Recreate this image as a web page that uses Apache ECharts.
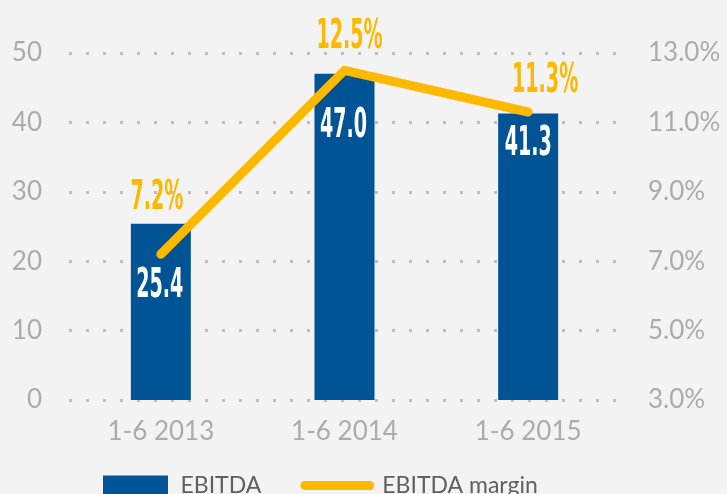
<!DOCTYPE html>
<html>
<head>
<meta charset="utf-8">
<script src="https://cdn.jsdelivr.net/npm/echarts@6/dist/echarts.min.js"></script>
<style>
  html, body { margin: 0; padding: 0; background: #f3f3f3; }
  #chart { width: 727px; height: 494px; }
</style>
</head>
<body>
<div id="chart"></div>
<script>
var categories = ['1-6 2013', '1-6 2014', '1-6 2015'];
var ebitda = [25.4, 47.0, 41.3];
var margin = [7.2, 12.5, 11.3];

var chart = echarts.init(document.getElementById('chart'));
var gray = '#ababab';
var yellow = '#fdb900';
var narrow = '"DejaVu Sans Condensed", "DejaVu Sans", sans-serif';

// per-point label nudges, as in the reference
var barOffsets = [[-1, 43], [-1, 33], [0, 11]];
var lineOffsets = [[-4, -35], [5, -12], [17, -10]];

var barText = ebitda.map(function (v) { return v.toFixed(1); });
var lineText = margin.map(function (v) { return v.toFixed(1) + '%'; });

var gridLine = {
  show: true,
  lineStyle: { color: '#bdbdbd', width: 3, type: [3, 14] }
};

chart.setOption({
  animation: false,
  backgroundColor: '#f3f3f3',
  textStyle: { fontFamily: 'Lato, sans-serif' },
  grid: { left: 69, right: 107, top: 53, bottom: 94 },
  legend: {
    top: 469,
    left: 98,
    itemGap: 39,
    itemWidth: 74,
    itemHeight: 20,
    textStyle: { fontSize: 23, color: '#5f5f5f', fontFamily: 'Lato, sans-serif', padding: [0, 0, 0, 3] },
    data: [
      { name: 'EBITDA', icon: 'path://M0,0 L65,0 L65,20 L0,20 Z' },
      {
        name: 'EBITDA margin',
        icon: 'path://M4.5,0 L69.5,0 A4.5,4.5 0 0 1 69.5,9 L4.5,9 A4.5,4.5 0 0 1 4.5,0 Z'
      }
    ]
  },
  xAxis: {
    type: 'category',
    data: categories,
    axisLine: { show: false },
    axisTick: { show: false },
    axisLabel: { color: gray, fontSize: 26, margin: 19 }
  },
  yAxis: [
    {
      type: 'value', min: 0, max: 50, interval: 10,
      axisLine: { show: false }, axisTick: { show: false },
      axisLabel: { color: gray, fontSize: 26, margin: 27 },
      splitLine: gridLine
    },
    {
      type: 'value', min: 3, max: 13, interval: 2,
      axisLine: { show: false }, axisTick: { show: false },
      axisLabel: {
        color: gray, fontSize: 26, margin: 28,
        formatter: function (v) { return v.toFixed(1) + '%'; }
      },
      splitLine: { show: false }
    }
  ],
  series: [
    {
      name: 'EBITDA',
      type: 'bar',
      barWidth: 60,
      itemStyle: { color: '#005496' },
      data: ebitda.map(function (v, i) {
        return { value: v, label: { offset: barOffsets[i] } };
      }),
      label: {
        show: true,
        position: 'insideTop',
        distance: 0,
        color: '#fff',
        fontSize: 40,
        fontWeight: 'bold',
        fontFamily: narrow,
        formatter: function (p) { return barText[p.dataIndex]; }
      }
    },
    {
      name: 'EBITDA margin',
      type: 'line',
      yAxisIndex: 1,
      symbol: 'circle',
      symbolSize: 1,
      lineStyle: { color: yellow, width: 9, cap: 'round', join: 'round' },
      itemStyle: { color: yellow },
      data: margin.map(function (v, i) {
        return { value: v, label: { offset: lineOffsets[i] } };
      }),
      label: {
        show: true,
        position: 'top',
        distance: 0,
        color: yellow,
        fontSize: 40,
        fontWeight: 'bold',
        fontFamily: narrow,
        formatter: function (p) { return lineText[p.dataIndex]; }
      }
    }
  ]
});

// the value labels use a tall, very narrow face; squeeze the drawn spans horizontally
function squeezeLabels() {
  var wanted = barText.concat(lineText);
  chart.getZr().storage.getDisplayList(true).forEach(function (el) {
    if (el.style && wanted.indexOf(el.style.text) >= 0 && el.scaleX === 1) {
      el.scaleX = 0.53;
      el.markRedraw();
    }
  });
  chart.getZr().refreshImmediately();
}
squeezeLabels();
chart.on('finished', squeezeLabels);
</script>
</body>
</html>
